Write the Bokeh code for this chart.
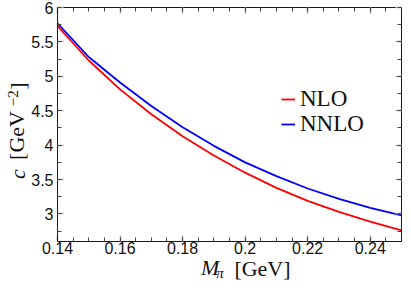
from bokeh.plotting import figure
from bokeh.models import (LinearAxis, Range1d, Legend, LegendItem, FixedTicker,
                          SingleIntervalTicker, NumeralTickFormatter)
from bokeh.embed import file_html
from bokeh.resources import INLINE

# ---- data ----
m_pi = [0.14, 0.15, 0.16, 0.17, 0.18, 0.19, 0.20, 0.21, 0.22, 0.23, 0.24, 0.25]
c_nlo = [5.73, 5.23, 4.81, 4.45, 4.13, 3.85, 3.60, 3.38, 3.19, 3.03, 2.89, 2.76]
c_nnlo = [5.77, 5.28, 4.91, 4.57, 4.26, 3.99, 3.75, 3.55, 3.37, 3.22, 3.09, 2.98]
series_labels = ["NLO", "NNLO"]
series_colors = ["#ff0000", "#0000ff"]
x_label_parts = ["[GeV]", "M", "π"]
y_label_parts = ["[GeV", "c", "]", "−2"]

X0, X1 = 0.14, 0.25
Y0, Y1 = 2.6, 6.0
W, H = 403, 294
BL, BR, BT, BB = 57, 2, 7, 53
TXT = "#111111"
NB = "\u00a0"   # no-break space, used to shift a centred title piece

p = figure(width=W, height=H, output_backend="svg", toolbar_location=None,
           x_range=Range1d(X0, X1), y_range=Range1d(Y0, Y1),
           min_border_left=BL, min_border_right=BR, min_border_top=BT, min_border_bottom=BB,
           x_axis_type=None, y_axis_type=None)
p.outline_line_color = None
p.background_fill_color = "white"
p.border_fill_color = "white"


def make_axis(interval, minors, fmt, show, standoff):
    ax = LinearAxis(ticker=SingleIntervalTicker(interval=interval, num_minor_ticks=minors),
                    formatter=NumeralTickFormatter(format=fmt))
    ax.axis_line_color = "#1a1a1a"
    ax.axis_line_width = 1
    ax.major_tick_in = 6
    ax.major_tick_out = 0
    ax.minor_tick_in = 4
    ax.minor_tick_out = 0
    ax.major_tick_line_color = "#a8a8a8"
    ax.major_tick_line_width = 1.6
    ax.minor_tick_line_color = "#444444"
    ax.minor_tick_line_width = 1
    ax.major_label_text_font = "Liberation Sans"
    ax.major_label_text_font_size = "16px"
    ax.major_label_text_color = TXT
    ax.major_label_standoff = standoff
    if not show:
        ax.major_label_text_font_size = "0px"
        ax.major_label_standoff = 0
    return ax


def title_axis(text, size, style, standoff):
    """An axis that only carries one piece of the axis title (no line, no ticks)."""
    ax = LinearAxis(ticker=FixedTicker(ticks=[]),
                    axis_label=text, axis_label_standoff=standoff,
                    axis_label_text_font="Liberation Serif", axis_label_text_font_size=size,
                    axis_label_text_font_style=style, axis_label_text_color=TXT)
    ax.axis_line_color = None
    ax.major_tick_line_color = None
    ax.minor_tick_line_color = None
    ax.major_tick_out = 0
    ax.minor_tick_out = 0
    ax.major_label_standoff = 0
    return ax


# bottom: tick labels, then the pieces of "M_pi [GeV]"
p.add_layout(make_axis(0.02, 4, "0.[00]", True, 0), "below")
x_texts = [NB * 12 + x_label_parts[0], x_label_parts[1] + NB * 7, x_label_parts[2] + NB * 5]
for text, size, style, so in zip(x_texts, ["22px", "22px", "15px"],
                                 ["normal", "italic", "italic"], [-1, -29, -19]):
    p.add_layout(title_axis(text, size, style, so), "below")

# left: tick labels, then the pieces of "c [GeV^-2]"
p.add_layout(make_axis(0.5, 2, "0.[0]", True, 4), "left")
y_texts = [y_label_parts[0] + NB * 4, y_label_parts[1] + NB * 18,
           NB * 14 + y_label_parts[2], NB * 14 + y_label_parts[3]]
for text, size, style, so in zip(y_texts, ["22px", "22px", "22px", "15px"],
                                 ["normal", "italic", "normal", "normal"], [0, -29, -29, -20]):
    p.add_layout(title_axis(text, size, style, so), "left")

# mirrored ticks on top and right
p.add_layout(make_axis(0.02, 4, "0.[00]", False, 0), "above")
p.add_layout(make_axis(0.5, 2, "0.[0]", False, 0), "right")

r1 = p.line(m_pi, c_nlo, line_color=series_colors[0], line_width=1.8)
r2 = p.line(m_pi, c_nnlo, line_color=series_colors[1], line_width=1.8)

for r, lb, loc in [(r1, series_labels[0], (224, 129)), (r2, series_labels[1], (224, 104))]:
    leg = Legend(items=[LegendItem(label=lb, renderers=[r])], location=loc,
                 padding=0, margin=0, border_line_color=None, background_fill_alpha=0,
                 glyph_width=14, glyph_height=24, label_height=24, label_standoff=5,
                 label_text_font="Liberation Serif", label_text_font_size="23px",
                 label_text_color=TXT)
    p.add_layout(leg)

open("out.html", "w").write(file_html(p, INLINE))
